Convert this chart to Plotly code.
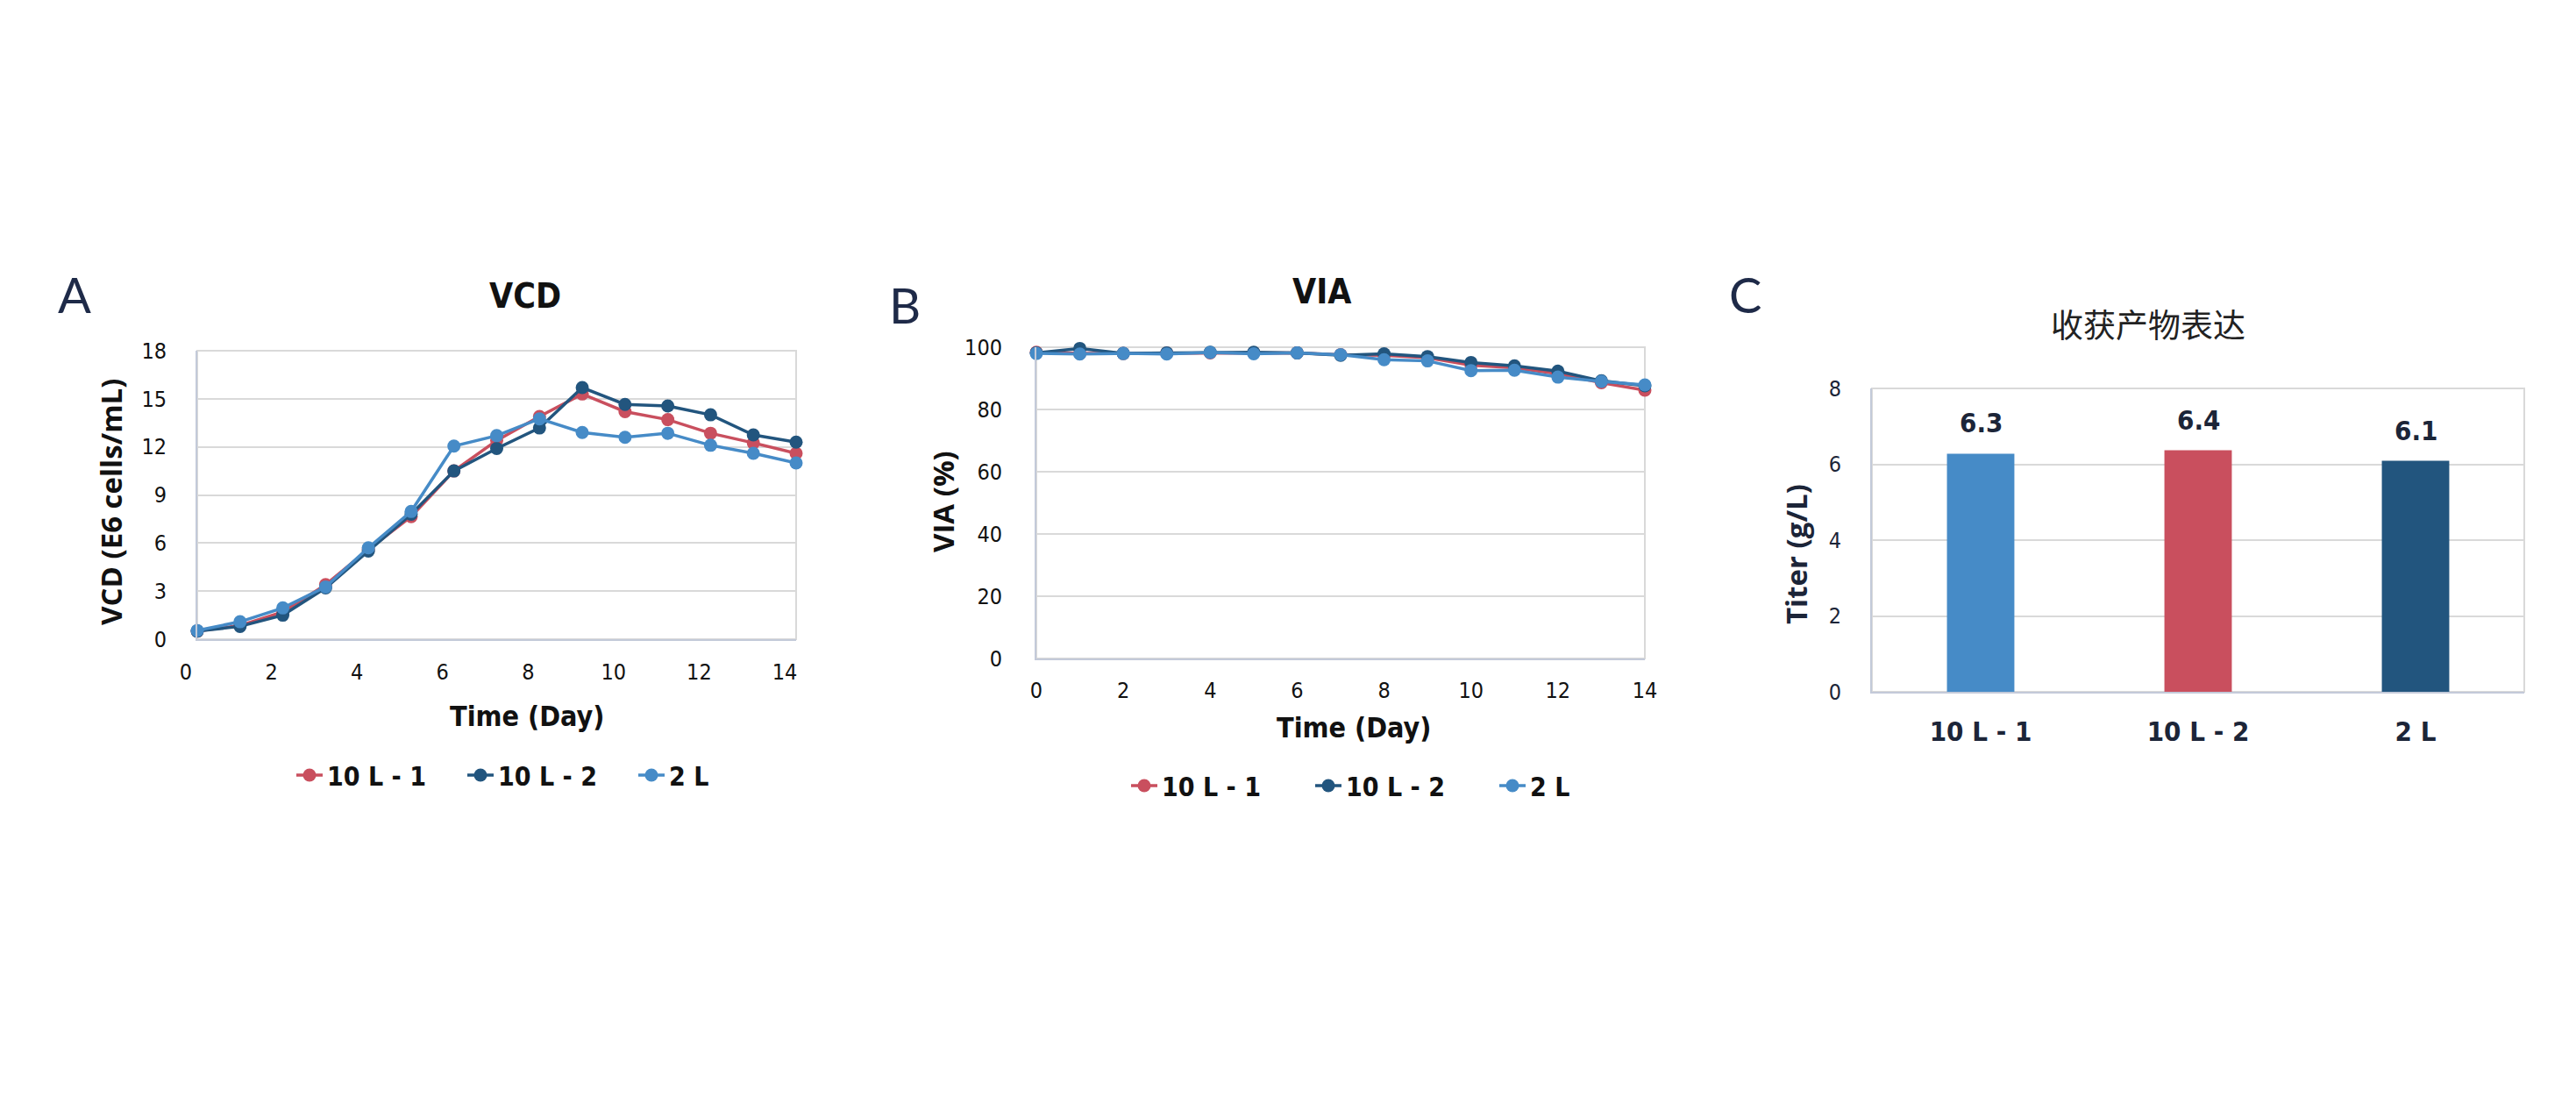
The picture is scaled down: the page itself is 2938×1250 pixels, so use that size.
import plotly.graph_objects as go

# ---------------- data ----------------
days = [0, 1, 2, 3, 4, 5, 6, 7, 8, 9, 10, 11, 12, 13, 14]
series_names = ["10 L - 1", "10 L - 2", "2 L"]

vcd_10L_1 = [0.5, 0.85, 1.7, 3.4, 5.6, 7.65, 10.5, 12.4, 13.9, 15.3, 14.2, 13.7, 12.85, 12.25, 11.6]
vcd_10L_2 = [0.5, 0.8, 1.5, 3.2, 5.5, 7.8, 10.5, 11.9, 13.18, 15.7, 14.65, 14.55, 14.0, 12.75, 12.3]
vcd_2L = [0.54, 1.09, 1.95, 3.26, 5.7, 7.97, 12.05, 12.7, 13.75, 12.9, 12.6, 12.85, 12.1, 11.6, 11.0]

via_10L_1 = [98.4, 98.0, 98.0, 98.1, 98.2, 98.2, 98.2, 97.6, 97.4, 96.6, 94.2, 93.4, 91.5, 88.6, 86.2]
via_10L_2 = [98.2, 99.6, 98.0, 98.2, 98.4, 98.4, 98.2, 97.4, 97.9, 97.0, 95.1, 94.0, 92.3, 89.2, 87.6]
via_2L = [98.0, 97.8, 98.0, 97.8, 98.3, 97.9, 98.2, 97.6, 96.0, 95.6, 92.5, 92.6, 90.4, 89.0, 87.9]

titer_categories = ["10 L - 1", "10 L - 2", "2 L"]
titer_values = [6.28, 6.37, 6.09]

vcd_ticks = [0, 3, 6, 9, 12, 15, 18]
via_ticks = [0, 20, 40, 60, 80, 100]
titer_ticks = [0, 2, 4, 6, 8]
day_ticks = [0, 2, 4, 6, 8, 10, 12, 14]

# ---------------- style ----------------
W, H = 2938, 1250
RED = "#C94F5E"
NAVY = "#22557E"
BLUE = "#468BC7"
series_colors = [RED, NAVY, BLUE]
bar_colors = [BLUE, RED, NAVY]
GRID = "#D9D9D9"
AXLINE = "#C3CAD9"
TXT = "#111111"
NAVYTXT = "#1C2538"
COND = "Liberation Sans Narrow, DejaVu Sans Condensed, Roboto, sans-serif"
WIDE = "Open Sans, Lato, sans-serif"


def fx(p):
    return p / W


def fy(p):
    return 1 - p / H


# plot areas in pixels (left, right, top, bottom)
A_box = (225, 908, 400, 729)
B_box = (1182, 1876, 396, 751)
C_box = (2135, 2879, 443, 789)

fig = go.Figure()

for name, col, ys in zip(series_names, series_colors, [vcd_10L_1, vcd_10L_2, vcd_2L]):
    fig.add_trace(go.Scatter(
        x=days, y=ys, name=name, mode="lines+markers",
        line=dict(color=col, width=3.5), marker=dict(color=col, size=15),
        xaxis="x", yaxis="y", legend="legend", cliponaxis=False,
    ))

for name, col, ys in zip(series_names, series_colors, [via_10L_1, via_10L_2, via_2L]):
    fig.add_trace(go.Scatter(
        x=days, y=ys, name=name, mode="lines+markers",
        line=dict(color=col, width=3.5), marker=dict(color=col, size=15),
        xaxis="x2", yaxis="y2", legend="legend2", cliponaxis=False,
    ))

fig.add_trace(go.Bar(
    x=titer_categories, y=titer_values, marker=dict(color=bar_colors, line=dict(width=0)),
    xaxis="x3", yaxis="y3", showlegend=False,
    text=[f"{v:.1f}" for v in titer_values], textposition="none",
))


def xax(box, **kw):
    d = dict(domain=[fx(box[0]), fx(box[1])], showgrid=False, zeroline=False,
             showline=True, linecolor=AXLINE, linewidth=2, automargin=False,
             ticks="outside", tickcolor="rgba(0,0,0,0)", ticklen=14,
             tickfont=dict(family=COND, size=25, color=TXT), fixedrange=True)
    d.update(kw)
    return d


def yax(box, **kw):
    d = dict(domain=[fy(box[3]), fy(box[2])], showgrid=True, gridcolor=GRID, gridwidth=2,
             zeroline=False, showline=True, linecolor=AXLINE, linewidth=2, automargin=False,
             ticks="outside", tickcolor="rgba(0,0,0,0)", ticklen=28,
             tickfont=dict(family=COND, size=25, color=TXT), fixedrange=True)
    d.update(kw)
    return d


layout = dict(
    width=W, height=H, margin=dict(l=0, r=0, t=0, b=0, pad=0, autoexpand=False),
    paper_bgcolor="white", plot_bgcolor="rgba(0,0,0,0)",
    xaxis=xax(A_box, anchor="y", range=[0, 14], tickvals=day_ticks, ticklabelshift=-13),
    yaxis=yax(A_box, anchor="x", range=[0, 18], tickvals=vcd_ticks),
    xaxis2=xax(B_box, anchor="y2", range=[0, 14], tickvals=day_ticks, ticklen=13),
    yaxis2=yax(B_box, anchor="x2", range=[0, 100], tickvals=via_ticks, ticklen=32),
    xaxis3=xax(C_box, anchor="y3", type="category", ticklen=17,
               tickfont=dict(family=COND, size=31, color=NAVYTXT, weight="bold")),
    yaxis3=yax(C_box, anchor="x3", range=[0, 8], tickvals=titer_ticks,
               tickfont=dict(family=COND, size=25, color=NAVYTXT)),
    bargap=0.69,
    legend=dict(orientation="h", x=fx(333), y=fy(884), xanchor="left", yanchor="middle",
                entrywidth=150, entrywidthmode="pixels",
                font=dict(family=COND, size=30, color=TXT, weight="bold"),
                bgcolor="rgba(0,0,0,0)"),
    legend2=dict(orientation="h", x=fx(1285), y=fy(896), xanchor="left", yanchor="middle",
                 entrywidth=165, entrywidthmode="pixels",
                 font=dict(family=COND, size=30, color=TXT, weight="bold"),
                 bgcolor="rgba(0,0,0,0)"),
)
fig.update_layout(**layout)

# light plot borders
shapes = []
for (l, r, t, b) in [A_box, B_box, C_box]:
    shapes.append(dict(type="rect", xref="paper", yref="paper", x0=fx(l), x1=fx(r), y0=fy(b), y1=fy(t),
                       line=dict(color=GRID, width=2), layer="below"))
fig.update_layout(shapes=shapes)

ann = []


def text(x, y, s, size, family, color=TXT, bold=False, angle=0):
    ann.append(dict(x=fx(x), y=fy(y), xref="paper", yref="paper", text=s, showarrow=False,
                    xanchor="center", yanchor="middle", textangle=angle,
                    font=dict(family=family, size=size, color=color, weight="bold" if bold else "normal")))


# panel letters
text(85, 336, "A", 56, "Lato, Noto Sans, sans-serif", "#1E2A48")
text(1032, 347, "B", 56, "Lato, Noto Sans, sans-serif", "#1E2A48")
text(1990, 335, "C", 56, "Lato, Noto Sans, sans-serif", "#1E2A48")
# titles
text(599, 337, "VCD", 39, COND, TXT, True)
text(1507, 332, "VIA", 39, COND, TXT, True)
text(2450, 369, "收获产物表达", 37, "Noto Sans CJK SC", "#222222")
# axis titles
text(601, 817, "Time (Day)", 32, COND, TXT, True)
text(1544, 830, "Time (Day)", 32, COND, TXT, True)
text(127, 573, "VCD (E6 cells/mL)", 33, WIDE, TXT, True, -90)
text(1075, 572, "VIA (%)", 33, WIDE, TXT, True, -90)
text(2048, 632, "Titer (g/L)", 33, WIDE, NAVYTXT, True, -90)

# bar value labels (positioned from data via the category axis)
for c, v in zip(titer_categories, titer_values):
    ann.append(dict(x=c, y=v, xref="x3", yref="y3", text=f"{v:.1f}", showarrow=False,
                    yshift=35, xanchor="center", yanchor="middle",
                    font=dict(family=COND, size=31, color=NAVYTXT, weight="bold")))

fig.update_layout(annotations=ann)

fig.write_html("out.html", config={"displayModeBar": False},
               post_script="document.body.style.margin='0';document.body.style.overflow='hidden';")
